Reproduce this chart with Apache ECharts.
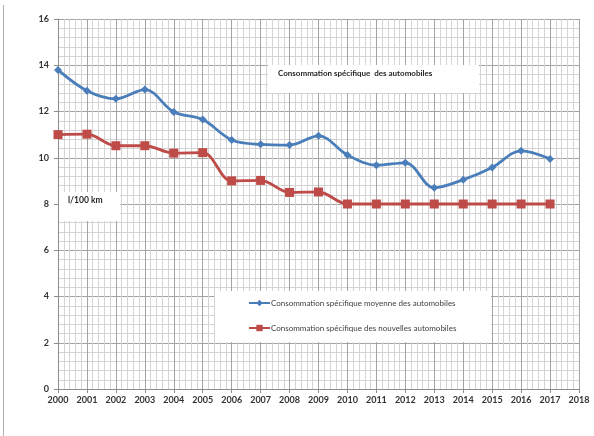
<!DOCTYPE html>
<html>
<head>
<meta charset="utf-8">
<script src="https://cdn.jsdelivr.net/npm/echarts@6/dist/echarts.min.js"></script>
<style>
  html, body { margin: 0; padding: 0; background: #fff; }
  #chart { width: 594px; height: 436px; }
</style>
</head>
<body>
<div id="chart"></div>
<script>
// Consommation spécifique des automobiles (l/100 km), 2000–2017
const years = [2000, 2001, 2002, 2003, 2004, 2005, 2006, 2007, 2008,
               2009, 2010, 2011, 2012, 2013, 2014, 2015, 2016, 2017];
const moyenne = [13.8, 12.9, 12.55, 12.95, 11.98, 11.65, 10.77, 10.58, 10.55,
                 10.95, 10.12, 9.68, 9.78, 8.7, 9.05, 9.58, 10.3, 9.95];
const nouvelles = [11.0, 11.02, 10.52, 10.52, 10.2, 10.22, 9.0, 9.02, 8.5,
                   8.52, 8.0, 8.0, 8.0, 8.0, 8.0, 8.0, 8.0, 8.0];
const seriesNames = [
  'Consommation spécifique moyenne des automobiles',
  'Consommation spécifique des nouvelles automobiles'
];
const chartTitle = 'Consommation spécifique  des automobiles';
const unitLabel = 'l/100 km';

const FONT = 'Lato, "Liberation Sans", sans-serif';
const chart = echarts.init(document.getElementById('chart'), null, { renderer: 'canvas' });

const pairs = arr => years.map((y, i) => [y, arr[i]]);

chart.setOption({
  animation: false,
  backgroundColor: '#ffffff',
  grid: { left: 58, right: 15, top: 19, bottom: 47, containLabel: false },
  xAxis: {
    type: 'value',
    min: 2000, max: 2018, interval: 1,
    axisLine: { show: true, lineStyle: { color: '#8c8c8c', width: 1 } },
    axisTick: { show: true, length: 4, lineStyle: { color: '#8c8c8c' } },
    axisLabel: {
      formatter: v => String(v),
      color: '#333', fontFamily: FONT, fontWeight: 'bold', fontSize: 9, margin: 7
    },
    splitLine: { show: true, lineStyle: { color: '#a3a3a3', width: 1 } },
    minorTick: { show: false, splitNumber: 5 },
    minorSplitLine: { show: true, lineStyle: { color: '#d4d4d4', width: 1 } }
  },
  yAxis: {
    type: 'value',
    min: 0, max: 16, interval: 2,
    axisLine: { show: true, lineStyle: { color: '#8c8c8c', width: 1 } },
    axisTick: { show: true, length: 4, lineStyle: { color: '#8c8c8c' } },
    axisLabel: {
      color: '#333', fontFamily: FONT, fontWeight: 'bold', fontSize: 9, margin: 9
    },
    splitLine: { show: true, lineStyle: { color: '#a3a3a3', width: 1 } },
    minorTick: { show: false, splitNumber: 5 },
    minorSplitLine: { show: true, lineStyle: { color: '#d4d4d4', width: 1 } }
  },
  legend: {
    orient: 'vertical',
    left: 248, top: 299,
    itemWidth: 21, itemHeight: 8, itemGap: 17,
    padding: 0,
    textStyle: { color: '#404040', fontFamily: FONT, fontSize: 8, padding: [0, 0, 0, -4] },
    data: seriesNames
  },
  series: [
    {
      name: seriesNames[0],
      type: 'line',
      data: pairs(moyenne),
      smooth: 0.35,
      symbol: 'diamond',
      symbolSize: 8,
      z: 5,
      lineStyle: { color: '#4a7ebb', width: 2.8 },
      itemStyle: { color: '#4a7ebb' }
    },
    {
      name: seriesNames[1],
      type: 'line',
      data: pairs(nouvelles),
      smooth: 0.35,
      symbol: 'rect',
      symbolSize: 9,
      z: 4,
      lineStyle: { color: '#be4b48', width: 2.8 },
      itemStyle: { color: '#be4b48' }
    }
  ],
  graphic: [
    // outer frame edge on the left
    { type: 'line', z: 1, shape: { x1: 3.5, y1: 5, x2: 3.5, y2: 436 },
      style: { stroke: '#b0b0b0', lineWidth: 1 } },
    // title box
    { type: 'rect', z: 1, shape: { x: 268, y: 65, width: 211, height: 28 },
      style: { fill: '#ffffff' } },
    { type: 'text', z: 2, left: 278, top: 69,
      style: { text: chartTitle, fill: '#262626', font: 'bold 8px ' + FONT } },
    // unit box
    { type: 'rect', z: 1, shape: { x: 59, y: 192, width: 61, height: 29 },
      style: { fill: '#ffffff' } },
    { type: 'text', z: 2, left: 68, top: 196,
      style: { text: unitLabel, fill: '#262626', font: 'bold 8.5px ' + FONT } },
    // legend box
    { type: 'rect', z: 1, shape: { x: 215, y: 291, width: 276, height: 51 },
      style: { fill: '#ffffff' } }
  ]
});
</script>
</body>
</html>
